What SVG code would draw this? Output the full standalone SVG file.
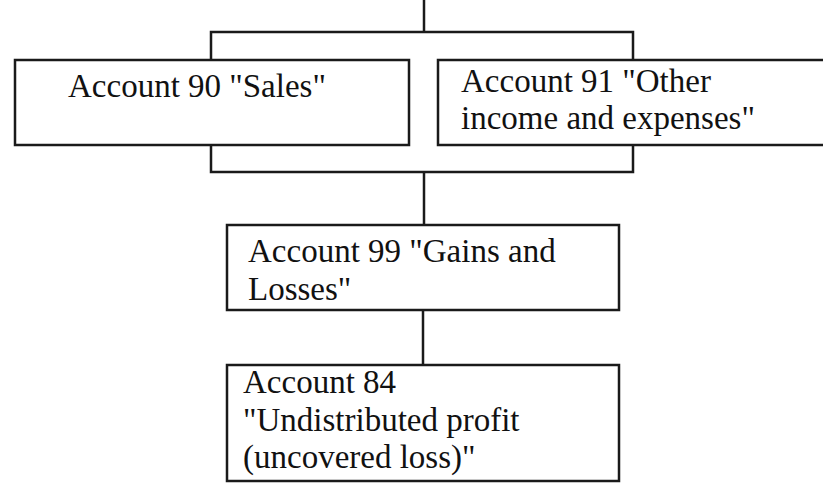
<svg xmlns="http://www.w3.org/2000/svg" width="823" height="483" viewBox="0 0 823 483">
<style>
.box{fill:#fff;stroke:#1a1a1a;stroke-width:2.5}
.ln{fill:none;stroke:#1a1a1a;stroke-width:2.5}
.t{font-family:'Liberation Serif','Times New Roman','DejaVu Serif',serif;font-size:33px;fill:#111}
</style>
<rect width="823" height="483" fill="#fff"/>
<g id="connectors">
<line class="ln" x1="424" y1="0" x2="424" y2="32"/>
<path class="ln" d="M211,60 V32 H633 V60"/>
<path class="ln" d="M211,145 V172 H633 V145"/>
<line class="ln" x1="424" y1="172" x2="424" y2="225"/>
<line class="ln" x1="423" y1="310" x2="423" y2="365"/>
</g>
<g id="account90">
<rect class="box" x="15" y="60" width="394" height="85"/>
<text class="t" x="68" y="97">Account 90 "Sales"</text>
</g>
<g id="account91">
<rect class="box" x="438" y="60" width="400" height="85"/>
<text class="t" x="461" y="92">Account 91 "Other</text>
<text class="t" x="461" y="129">income and expenses"</text>
</g>
<g id="account99">
<rect class="box" x="227" y="225" width="392" height="85"/>
<text class="t" x="248" y="262">Account 99 "Gains and</text>
<text class="t" x="248" y="300">Losses"</text>
</g>
<g id="account84">
<rect class="box" x="227" y="365" width="392" height="116"/>
<text class="t" x="243" y="393">Account 84</text>
<text class="t" x="243" y="431">"Undistributed profit</text>
<text class="t" x="243" y="468">(uncovered loss)"</text>
</g>
</svg>
